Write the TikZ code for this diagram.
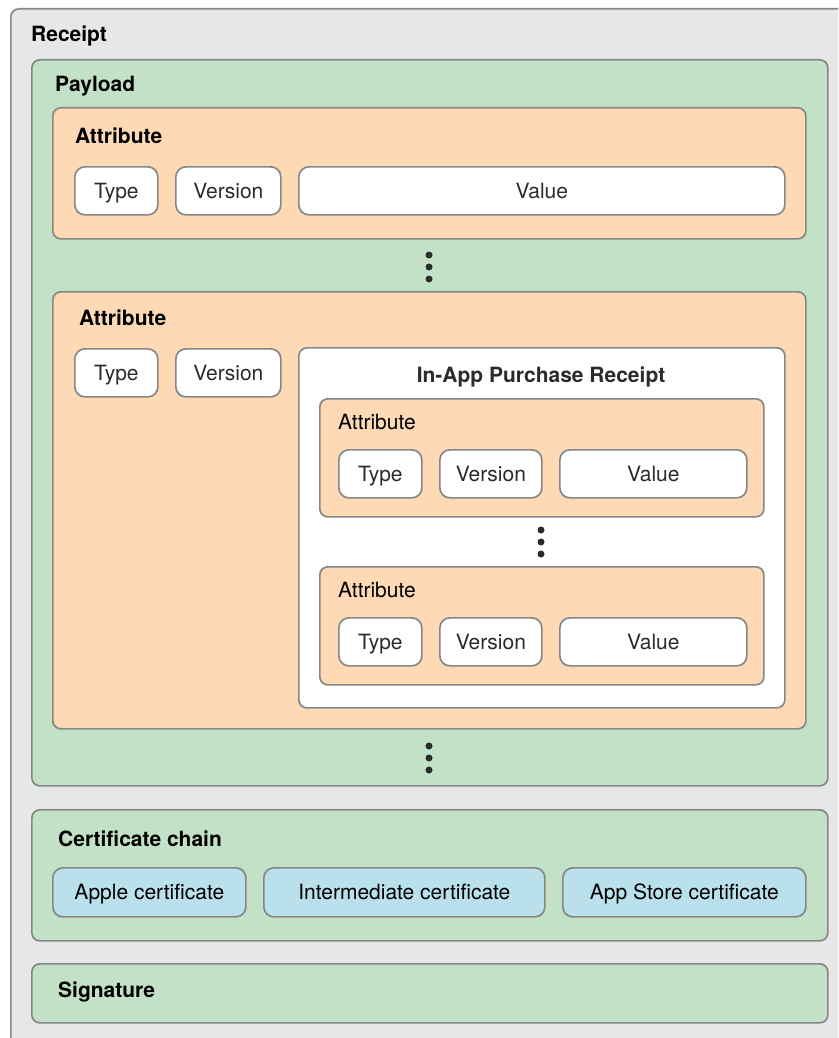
\documentclass[tikz,border=0pt]{standalone}
\usepackage{fontspec}
\setmainfont{TeX Gyre Heros}
\definecolor{receiptgray}{HTML}{E6E7E7}
\definecolor{panelgreen}{HTML}{C3E1C6}
\definecolor{attrpeach}{HTML}{FDDAB5}
\definecolor{certblue}{HTML}{B9E0EB}
\definecolor{edgegray}{HTML}{878787}
\definecolor{inkdark}{HTML}{2B2B2B}
\tikzset{
  panel/.style={draw=edgegray, line width=1.7pt, rounded corners=8pt,
    inner sep=0pt, anchor=north west},
  field/.style={panel, fill=white, rounded corners=10pt, minimum height=48pt,
    text=inkdark, text height=15pt, text depth=0pt,
    font=\fontsize{21}{25}\selectfont},
  cert/.style={field, fill=certblue, minimum height=49pt, text=black},
  heading/.style={anchor=base west, inner sep=0pt,
    font=\fontsize{21}{25}\selectfont\bfseries},
  sublabel/.style={anchor=base west, inner sep=0pt,
    font=\fontsize{21}{25}\selectfont},
  dot/.style={circle, fill=inkdark, inner sep=0pt, minimum size=7pt},
}
\begin{document}
\begin{tikzpicture}[x=1pt, y=-1pt]
\useasboundingbox (0,0) rectangle (838,1038);
\clip (0,0) rectangle (838,1038);

% receipt container
\node[panel, fill=receiptgray, minimum width=850pt, minimum height=1050pt] (receipt) at (10,8) {};
\node[heading] (receiptlbl) at (31,42) {Receipt};

% payload
\node[panel, fill=panelgreen, minimum width=796pt, minimum height=726pt] (payload) at (31,59) {};
\node[heading] (payloadlbl) at (55,92) {Payload};

% first attribute
\node[panel, fill=attrpeach, minimum width=753pt, minimum height=131pt] (attrA) at (52,107) {};
\node[heading] (attrAlbl) at (75,143) {Attribute};
\node[field, minimum width=83pt] (typeA) at (74,166) {Type};
\node[field, minimum width=105pt] (versionA) at (175,166) {Version};
\node[field, minimum width=486pt] (valueA) at (298,166) {Value};

\node[dot] (dA1) at (429,255) {};
\node[dot] (dA2) at (429,267) {};
\node[dot] (dA3) at (429,279) {};

% second attribute holding the in-app purchase receipt
\node[panel, fill=attrpeach, minimum width=753pt, minimum height=437pt] (attrB) at (52,291) {};
\node[heading] (attrBlbl) at (79,325) {Attribute};
\node[field, minimum width=83pt] (typeB) at (74,348) {Type};
\node[field, minimum width=105pt] (versionB) at (175,348) {Version};

\node[panel, fill=white, minimum width=486pt, minimum height=360pt] (iap) at (298,347) {};
\node[heading, anchor=base, text=inkdark] (iaplbl) at (541,382) {In-App Purchase Receipt};

\node[panel, fill=attrpeach, minimum width=444pt, minimum height=118pt] (iapA) at (319,398) {};
\node[sublabel] (iapAlbl) at (338,429) {Attribute};
\node[field, minimum width=83pt] (typeC) at (338,449) {Type};
\node[field, minimum width=102pt] (versionC) at (439,449) {Version};
\node[field, minimum width=187pt] (valueC) at (559,449) {Value};

\node[dot] (dC1) at (541,530) {};
\node[dot] (dC2) at (541,542) {};
\node[dot] (dC3) at (541,554) {};

\node[panel, fill=attrpeach, minimum width=444pt, minimum height=118pt] (iapB) at (319,566) {};
\node[sublabel] (iapBlbl) at (338,597) {Attribute};
\node[field, minimum width=83pt] (typeD) at (338,617) {Type};
\node[field, minimum width=102pt] (versionD) at (439,617) {Version};
\node[field, minimum width=187pt] (valueD) at (559,617) {Value};

\node[dot] (dB1) at (429,746) {};
\node[dot] (dB2) at (429,758) {};
\node[dot] (dB3) at (429,770) {};

% certificate chain
\node[panel, fill=panelgreen, minimum width=796pt, minimum height=131pt] (chain) at (31,809) {};
\node[heading] (chainlbl) at (58,846) {Certificate chain};
\node[cert, minimum width=193pt] (apple) at (52,867) {Apple certificate};
\node[cert, minimum width=281pt] (inter) at (263,867) {Intermediate certificate};
\node[cert, minimum width=243pt] (store) at (562,867) {App Store certificate};

% signature
\node[panel, fill=panelgreen, minimum width=796pt, minimum height=59pt] (signature) at (31,963) {};
\node[heading] (signaturelbl) at (58,997) {Signature};
\end{tikzpicture}
\end{document}
